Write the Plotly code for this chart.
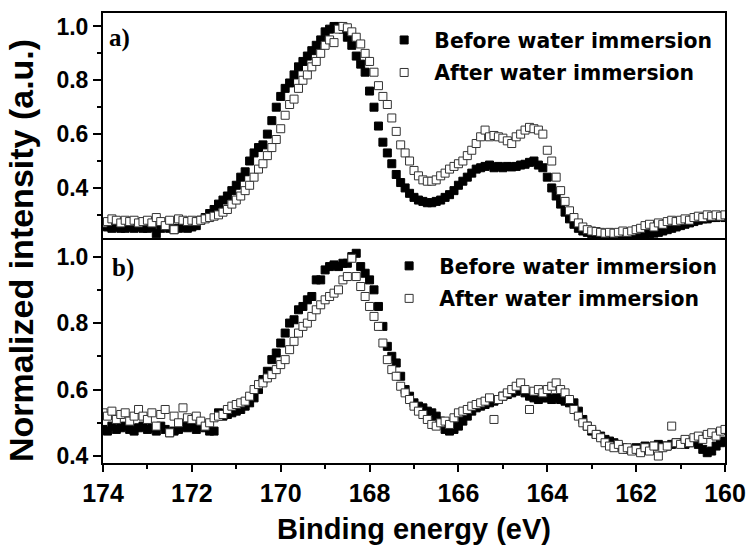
import numpy as np
import plotly.graph_objects as go

# Binding energy grid (eV), 174.0 -> 160.0 in 0.1 eV steps
energy = np.round(np.arange(174.0, 159.95, -0.1), 1)

top_before = [
    0.26, 0.255, 0.25, 0.255, 0.25, 0.25, 0.255, 0.25, 0.255, 0.25,
    0.25, 0.255, 0.23, 0.25, 0.26, 0.25, 0.245, 0.25, 0.255, 0.25,
    0.255, 0.26, 0.28, 0.29, 0.305, 0.32, 0.34, 0.355, 0.37, 0.39,
    0.41, 0.44, 0.46, 0.50, 0.53, 0.55, 0.56, 0.60, 0.65, 0.70,
    0.74, 0.77, 0.79, 0.82, 0.85, 0.87, 0.89, 0.91, 0.93, 0.95,
    0.98, 0.99, 1.0, 1.0, 0.99, 0.96, 0.93, 0.89, 0.86, 0.83,
    0.76, 0.70, 0.63, 0.57, 0.53, 0.49, 0.45, 0.42, 0.40, 0.38,
    0.365, 0.355, 0.35, 0.345, 0.345, 0.35, 0.355, 0.365, 0.375, 0.39,
    0.41, 0.425, 0.44, 0.455, 0.47, 0.475, 0.48, 0.485, 0.475, 0.48,
    0.475, 0.48, 0.478, 0.48, 0.485, 0.488, 0.495, 0.50, 0.485, 0.475,
    0.44, 0.40, 0.37, 0.34, 0.31, 0.285, 0.265, 0.25, 0.24, 0.235,
    0.23, 0.225, 0.22, 0.22, 0.218, 0.22, 0.218, 0.22, 0.222, 0.225,
    0.225, 0.228, 0.23, 0.23, 0.232, 0.235, 0.24, 0.245, 0.25, 0.255,
    0.26, 0.265, 0.27, 0.275, 0.28, 0.285, 0.285, 0.29, 0.29, 0.295, 0.29,
]

top_after = [
    0.27, 0.275, 0.285, 0.28, 0.27, 0.28, 0.275, 0.28, 0.27, 0.275,
    0.28, 0.27, 0.29, 0.275, 0.26, 0.28, 0.245, 0.285, 0.28, 0.275,
    0.28, 0.275, 0.28, 0.285, 0.29, 0.295, 0.30, 0.31, 0.32, 0.34,
    0.355, 0.37, 0.39, 0.41, 0.44, 0.47, 0.49, 0.52, 0.55, 0.58,
    0.62, 0.67, 0.71, 0.73, 0.77, 0.80, 0.82, 0.85, 0.87, 0.90,
    0.93, 0.95, 0.94, 0.99, 1.0, 0.995, 0.98, 0.96, 0.935, 0.90,
    0.87, 0.83, 0.78, 0.74, 0.71, 0.66, 0.61, 0.56, 0.53, 0.50,
    0.465, 0.445, 0.43, 0.425, 0.425, 0.43, 0.445, 0.455, 0.47, 0.48,
    0.49, 0.50, 0.52, 0.54, 0.565, 0.59, 0.615, 0.59, 0.595, 0.59,
    0.585, 0.575, 0.565, 0.59, 0.60, 0.615, 0.625, 0.62, 0.615, 0.60,
    0.54, 0.50, 0.44, 0.39, 0.35, 0.315, 0.29, 0.27, 0.255, 0.245,
    0.24, 0.238, 0.235, 0.232, 0.235, 0.232, 0.235, 0.24, 0.235, 0.24,
    0.245, 0.25, 0.26, 0.265, 0.255, 0.27, 0.265, 0.275, 0.28, 0.275,
    0.28, 0.285, 0.28, 0.29, 0.295, 0.29, 0.30, 0.295, 0.30, 0.295, 0.30,
]

bottom_before = [
    0.48, 0.475, 0.49, 0.48, 0.485, 0.49, 0.48, 0.475, 0.485, 0.49,
    0.48, 0.485, 0.475, 0.49, 0.48, 0.47, 0.475, 0.48, 0.49, 0.485,
    0.49, 0.48, 0.49, 0.485, 0.475, 0.475, 0.53, 0.52, 0.525, 0.53,
    0.535, 0.54, 0.55, 0.56, 0.575, 0.60, 0.63, 0.655, 0.69, 0.71,
    0.74, 0.77, 0.80, 0.81, 0.84, 0.85, 0.87, 0.88, 0.93, 0.93,
    0.96, 0.97, 0.975, 0.97, 0.98, 0.98, 1.0, 1.01, 0.97, 0.95,
    0.93, 0.90, 0.85, 0.79, 0.73, 0.70, 0.68, 0.64, 0.60, 0.58,
    0.56, 0.55, 0.545, 0.535, 0.53, 0.52, 0.505, 0.48, 0.475, 0.48,
    0.49, 0.505, 0.52, 0.535, 0.545, 0.55, 0.555, 0.56, 0.565, 0.57,
    0.58, 0.585, 0.59, 0.595, 0.60, 0.59, 0.58, 0.575, 0.57, 0.575,
    0.575, 0.57, 0.575, 0.57, 0.565, 0.56, 0.56, 0.535, 0.51, 0.49,
    0.475, 0.465, 0.46, 0.45, 0.445, 0.44, 0.43, 0.425, 0.42, 0.42,
    0.425, 0.42, 0.43, 0.425, 0.43, 0.435, 0.43, 0.43, 0.435, 0.44,
    0.44, 0.435, 0.44, 0.445, 0.435, 0.42, 0.41, 0.415, 0.43, 0.44, 0.445,
]

bottom_after = [
    0.53, 0.52, 0.535, 0.51, 0.525, 0.53, 0.505, 0.52, 0.54, 0.52,
    0.51, 0.53, 0.49, 0.525, 0.54, 0.47, 0.52, 0.50, 0.545, 0.515,
    0.51, 0.52, 0.505, 0.49, 0.50, 0.515, 0.52, 0.525, 0.54, 0.55,
    0.555, 0.56, 0.565, 0.58, 0.60, 0.615, 0.62, 0.635, 0.645, 0.66,
    0.675, 0.69, 0.72, 0.745, 0.77, 0.79, 0.80, 0.82, 0.84, 0.855,
    0.87, 0.88, 0.89, 0.90, 0.93, 0.94, 0.995, 0.94, 0.91, 0.88,
    0.85, 0.82, 0.79, 0.74, 0.69, 0.66, 0.64, 0.61, 0.59, 0.57,
    0.55, 0.535, 0.525, 0.51, 0.495, 0.49, 0.50, 0.505, 0.495, 0.515,
    0.53, 0.535, 0.54, 0.55, 0.555, 0.56, 0.565, 0.575, 0.51, 0.57,
    0.58, 0.59, 0.60, 0.61, 0.62, 0.60, 0.54, 0.595, 0.60, 0.59,
    0.60, 0.61, 0.62, 0.60, 0.59, 0.57, 0.54, 0.52, 0.50, 0.49,
    0.48, 0.465, 0.455, 0.44, 0.43, 0.425, 0.435, 0.42, 0.425, 0.415,
    0.42, 0.41, 0.425, 0.415, 0.43, 0.40, 0.425, 0.43, 0.49, 0.44,
    0.435, 0.45, 0.44, 0.455, 0.46, 0.45, 0.465, 0.47, 0.46, 0.475, 0.48,
]

x_ticks = [174, 172, 170, 168, 166, 164, 162, 160]
y_ticks = [0.4, 0.6, 0.8, 1.0]
y_tick_text = ["0.4", "0.6", "0.8", "1.0"]
series_names = ["Before water immersion", "After water immersion"]
panel_labels = ["a)", "b)"]

SANS = "Liberation Sans, Arial, sans-serif"
WIDE = "DejaVu Sans, Verdana, sans-serif"
SERIF = "Liberation Serif, Times New Roman, serif"

filled = dict(symbol="square", size=8, color="black", line=dict(color="black", width=1))
opened = dict(symbol="square", size=8, color="white", line=dict(color="#333333", width=1))

fig = go.Figure()
# top panel (a)
fig.add_trace(go.Scatter(x=energy, y=top_before, mode="markers", marker=filled,
                         name="\u2002" + series_names[0], legendgroup="a1",
                         xaxis="x2", yaxis="y2", legend="legend"))
fig.add_trace(go.Scatter(x=energy, y=top_after, mode="markers", marker=opened,
                         name="\u2002" + series_names[1], legendgroup="a2",
                         xaxis="x2", yaxis="y2", legend="legend"))
# bottom panel (b)
fig.add_trace(go.Scatter(x=energy, y=bottom_before, mode="markers", marker=filled,
                         name="\u2002" + series_names[0], legendgroup="b1",
                         xaxis="x", yaxis="y", legend="legend2"))
fig.add_trace(go.Scatter(x=energy, y=bottom_after, mode="markers", marker=opened,
                         name="\u2002" + series_names[1], legendgroup="b2",
                         xaxis="x", yaxis="y", legend="legend2"))

split = 0.5
line_common = dict(showline=True, linecolor="black", linewidth=2,
                   showgrid=False, zeroline=False, automargin=False)
ytick_common = dict(tickvals=y_ticks, ticktext=y_tick_text,
                    ticks="outside", ticklen=8, tickwidth=2, tickcolor="black",
                    minor=dict(dtick=0.1, ticks="outside", ticklen=4, tickwidth=2, tickcolor="black"),
                    tickfont=dict(family=SANS, size=23, color="black", weight="bold"))

legend_common = dict(font=dict(family=WIDE, size=20.4, color="black", weight="bold"),
                     bgcolor="rgba(0,0,0,0)", borderwidth=0, tracegroupgap=3,
                     traceorder="grouped", itemwidth=30, xanchor="left", yanchor="top")

fig.update_layout(
    width=751, height=545,
    margin=dict(l=103, r=26, t=13, b=82),
    paper_bgcolor="white", plot_bgcolor="white",
    showlegend=True,
    xaxis=dict(**line_common, mirror=False, range=[174, 160], anchor="y",
               tickvals=x_ticks, ticks="outside", ticklen=7, tickwidth=2, tickcolor="black",
               minor=dict(dtick=1, ticks="outside", ticklen=4, tickwidth=2, tickcolor="black"),
               tickfont=dict(family=SANS, size=25, color="black", weight="bold")),
    xaxis2=dict(**line_common, mirror=True, range=[174, 160], anchor="y2", matches="x",
                showticklabels=False, ticks=""),
    yaxis=dict(**line_common, **ytick_common, mirror=True, range=[0.379, 1.056],
               domain=[0, split], anchor="x"),
    yaxis2=dict(**line_common, **ytick_common, mirror=True, range=[0.214, 1.05],
                domain=[split, 1], anchor="x2"),
    legend=dict(**legend_common, x=0.452, y=0.984),
    legend2=dict(**legend_common, x=0.46, y=0.482),
    annotations=[
        dict(text=panel_labels[0], x=0.006, y=0.944, xref="paper", yref="paper",
             xanchor="left", yanchor="middle", showarrow=False,
             font=dict(family=SERIF, size=25, color="black", weight="bold")),
        dict(text=panel_labels[1], x=0.011, y=0.434, xref="paper", yref="paper",
             xanchor="left", yanchor="middle", showarrow=False,
             font=dict(family=SERIF, size=25, color="black", weight="bold")),
        dict(text="Normalized intensity (a.u.)", x=-0.132, y=0.473, xref="paper", yref="paper",
             textangle=-90, showarrow=False, xanchor="center", yanchor="middle",
             font=dict(family=SANS, size=34, color="black", weight="bold")),
        dict(text="Binding energy (eV)", x=0.5, y=-0.146, xref="paper", yref="paper",
             showarrow=False, xanchor="center", yanchor="middle",
             font=dict(family=SANS, size=29, color="black", weight="bold")),
    ],
)

fig.write_html("out.html", config={"displayModeBar": False},
               post_script="document.body.style.margin='0';document.body.style.overflow='hidden';")
